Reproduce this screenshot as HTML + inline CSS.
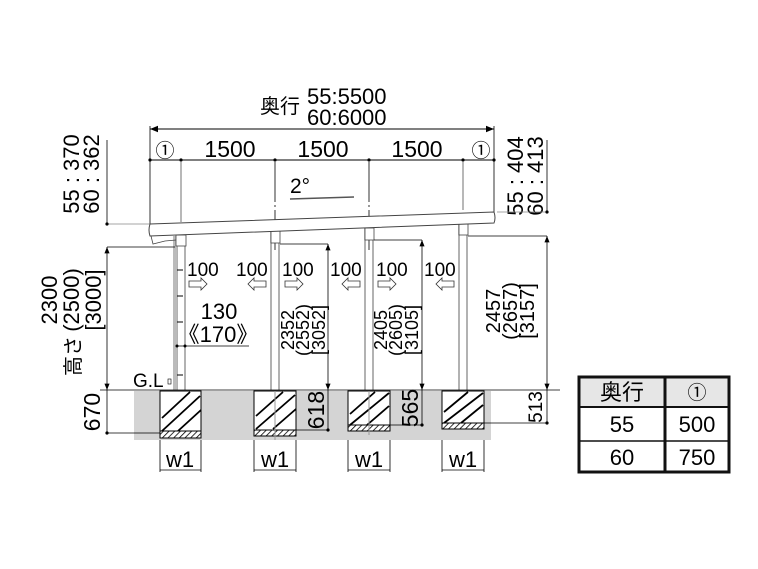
<!DOCTYPE html>
<html><head><meta charset="utf-8"><style>
html,body{margin:0;padding:0;background:#fff;}
svg{display:block;font-family:"Liberation Sans","Noto Sans CJK JP",sans-serif;}
</style></head><body>
<svg width="758" height="569" viewBox="0 0 758 569" xmlns="http://www.w3.org/2000/svg">
<defs>
<marker id="ar" viewBox="0 0 10 10" refX="10" refY="5" markerWidth="8" markerHeight="8" orient="auto-start-reverse"><path d="M0,1 L10,5 L0,9 z" fill="#000"/></marker>
<pattern id="hs" width="4" height="4" patternUnits="userSpaceOnUse" patternTransform="rotate(45)"><rect width="4" height="4" fill="#fff"/><line x1="0" y1="0" x2="0" y2="4" stroke="#000" stroke-width="1.6"/></pattern>
</defs>

<!-- title -->
<text x="260" y="113" font-size="20">奥行</text>
<text x="307" y="104" font-size="22">55:5500</text>
<text x="307" y="125" font-size="22">60:6000</text>

<!-- top overall dim -->
<line x1="150" y1="129" x2="494" y2="129" stroke="#000" marker-start="url(#ar)" marker-end="url(#ar)"/>
<line x1="150" y1="126" x2="150" y2="224" stroke="#000" stroke-width="0.8"/>
<line x1="494" y1="126" x2="494" y2="212" stroke="#000" stroke-width="0.8"/>

<!-- span dim -->
<line x1="150" y1="160" x2="494" y2="160" stroke="#000"/>
<g fill="#000"><circle cx="150" cy="160" r="1.6"/><circle cx="181" cy="160" r="1.6"/><circle cx="275" cy="160" r="1.6"/><circle cx="369" cy="160" r="1.6"/><circle cx="463" cy="160" r="1.6"/><circle cx="494" cy="160" r="1.6"/></g>
<g font-size="23" text-anchor="middle">
<text x="165" y="157" font-size="19">①</text>
<text x="481" y="157" font-size="19">①</text>
<text x="230" y="157">1500</text>
<text x="323" y="157">1500</text>
<text x="417" y="157">1500</text>
</g>
<line x1="181" y1="162" x2="181" y2="222" stroke="#888" stroke-width="1.2"/>
<line x1="463" y1="162" x2="463" y2="210" stroke="#888" stroke-width="1.2"/>
<line x1="275" y1="162" x2="275" y2="250" stroke="#000" stroke-width="0.8" stroke-dasharray="40,3,2,3"/>
<line x1="369" y1="162" x2="369" y2="250" stroke="#000" stroke-width="0.8" stroke-dasharray="40,3,2,3"/>

<!-- 2 deg -->
<text x="290" y="193" font-size="21">2°</text>
<path d="M290 199 L354 197" stroke="#555" stroke-width="1.5"/>

<!-- left height dim -->
<line x1="107" y1="140" x2="107" y2="224" stroke="#000" stroke-width="0.8"/>
<line x1="107" y1="224" x2="150" y2="224" stroke="#888" stroke-width="0.8"/>
<circle cx="107" cy="224" r="1.6"/>
<g font-size="22" text-anchor="middle">
<text transform="translate(79,174) rotate(-90)">55 : 370</text>
<text transform="translate(99,174) rotate(-90)">60 : 362</text>
<text transform="translate(523,176) rotate(-90)">55 : 404</text>
<text transform="translate(543,176) rotate(-90)">60 : 413</text>
</g>
<line x1="547" y1="140" x2="547" y2="212" stroke="#000" stroke-width="0.8"/>
<line x1="497" y1="212" x2="547" y2="212" stroke="#888" stroke-width="0.8"/>
<circle cx="547" cy="212" r="1.6"/>

<!-- posts -->
<g stroke="#999" stroke-width="1.5" fill="none">
<line x1="177" y1="236" x2="177" y2="390"/>
<line x1="185" y1="236" x2="185" y2="390"/>
<line x1="271" y1="232" x2="271" y2="390"/><line x1="279" y1="232" x2="279" y2="390"/>
<line x1="365" y1="228" x2="365" y2="390"/><line x1="373" y1="228" x2="373" y2="390"/>
<line x1="459" y1="224" x2="459" y2="390"/><line x1="467" y1="224" x2="467" y2="390"/>
</g>
<rect x="173" y="236" width="4" height="154" fill="#bbb"/>
<g fill="#fff" stroke="#444" stroke-width="0.8">
<rect x="176" y="235" width="10" height="11"/>
<rect x="271" y="231" width="9" height="12"/>
<rect x="365" y="228" width="9" height="12"/>
<rect x="459" y="224" width="9" height="11"/>
</g>
<g stroke="#000" stroke-width="1">
<line x1="177" y1="270" x2="183" y2="270"/><line x1="177" y1="296" x2="183" y2="296"/><line x1="177" y1="322" x2="183" y2="322"/><line x1="177" y1="375" x2="183" y2="375"/>
</g>

<!-- roof -->
<path d="M150 224 L494 212 Q496 218 494 223 L150 236 Q148 230 150 224 Z" fill="#fff" stroke="#444" stroke-width="1"/>
<path d="M151 236 L153 244 L165 241 L176 240" fill="none" stroke="#444" stroke-width="0.8"/>

<!-- height dims -->
<g stroke="#000" stroke-width="0.8">
<line x1="107" y1="247" x2="175" y2="247"/>
<line x1="107" y1="247" x2="107" y2="390" marker-start="url(#ar)" marker-end="url(#ar)"/>
<line x1="280" y1="244" x2="328" y2="244"/>
<line x1="328" y1="244" x2="328" y2="390" marker-start="url(#ar)" marker-end="url(#ar)"/>
<line x1="374" y1="240" x2="422" y2="240"/>
<line x1="422" y1="240" x2="422" y2="390" marker-start="url(#ar)" marker-end="url(#ar)"/>
<line x1="468" y1="236" x2="547" y2="236"/>
<line x1="547" y1="236" x2="547" y2="390" marker-start="url(#ar)" marker-end="url(#ar)"/>
<line x1="100" y1="390" x2="560" y2="390"/>
</g>
<g font-size="22" text-anchor="middle">
<text transform="translate(57,300) rotate(-90)">2300</text>
<text transform="translate(79,300) rotate(-90)">(2500)</text>
<text transform="translate(101,300) rotate(-90)">[3000]</text>
<text transform="translate(80,356) rotate(-90)" font-size="20">高さ</text>
</g>
<g font-size="18" text-anchor="middle">
<text transform="translate(294,330) rotate(-90)">2352</text>
<text transform="translate(309,330) rotate(-90)">(2552)</text>
<text transform="translate(325,330) rotate(-90)">[3052]</text>
<text transform="translate(387,330) rotate(-90)">2405</text>
<text transform="translate(402,330) rotate(-90)">(2605)</text>
<text transform="translate(418,330) rotate(-90)">[3105]</text>
</g>
<g font-size="20" text-anchor="middle">
<text transform="translate(500,311) rotate(-90)">2457</text>
<text transform="translate(517,311) rotate(-90)">(2657)</text>
<text transform="translate(534,311) rotate(-90)">[3157]</text>
</g>

<!-- 100 labels & arrows -->
<g font-size="19">
<text x="187" y="276">100</text>
<text x="236" y="276">100</text>
<text x="282" y="276">100</text>
<text x="330" y="276">100</text>
<text x="376" y="276">100</text>
<text x="424" y="276">100</text>
</g>
<g fill="#fff" stroke="#333" stroke-width="0.8">
<path d="M189 281 h12 v-3 l6 6 l-6 6 v-3 h-12 z"/>
<path d="M285 281 h12 v-3 l6 6 l-6 6 v-3 h-12 z"/>
<path d="M378 281 h12 v-3 l6 6 l-6 6 v-3 h-12 z"/>
<path d="M266 281 h-12 v-3 l-6 6 l6 6 v-3 h12 z"/>
<path d="M360 281 h-12 v-3 l-6 6 l6 6 v-3 h12 z"/>
<path d="M454 281 h-12 v-3 l-6 6 l6 6 v-3 h12 z"/>
</g>

<!-- 130 -->
<text x="219" y="319" font-size="22" text-anchor="middle">130</text>
<text x="218" y="342" font-size="22" text-anchor="middle">《170》</text>
<line x1="176" y1="346" x2="249" y2="346" stroke="#000" stroke-width="0.8"/>
<circle cx="177" cy="346" r="1.5"/><circle cx="185" cy="346" r="1.5"/>

<text x="133" y="387" font-size="19">G.L</text>
<rect x="168" y="379" width="3" height="5" fill="#fff" stroke="#000" stroke-width="0.6"/>

<!-- ground -->
<rect x="134" y="391" width="357" height="49" fill="#d4d4d4"/>
<g stroke="#000" stroke-width="1">
<g>
<rect x="160" y="391" width="41" height="47" fill="#fff"/>
<rect x="160" y="431" width="41" height="7" fill="url(#hs)" stroke="#000"/>
<path d="M162 418 L190 392 M162 431 L200 396 M178 431 L201 410" stroke-width="1.8"/>
</g>
<g>
<rect x="254" y="391" width="42" height="45" fill="#fff"/>
<rect x="254" y="430" width="42" height="6" fill="url(#hs)" stroke="#000"/>
<path d="M256 416 L283 392 M256 429 L295 395 M273 429 L296 409" stroke-width="1.8"/>
</g>
<g>
<rect x="348" y="391" width="42" height="40" fill="#fff"/>
<rect x="348" y="425" width="42" height="6" fill="url(#hs)" stroke="#000"/>
<path d="M350 414 L375 392 M350 425 L389 393 M367 425 L389 406" stroke-width="1.8"/>
</g>
<g>
<rect x="442" y="391" width="42" height="38" fill="#fff"/>
<rect x="442" y="423" width="42" height="6" fill="url(#hs)" stroke="#000"/>
<path d="M444 412 L468 392 M444 423 L483 393 M461 423 L483 405" stroke-width="1.8"/>
</g>
</g>
<g stroke="#999" stroke-width="1">
<line x1="275" y1="391" x2="275" y2="440"/><line x1="369" y1="391" x2="369" y2="435"/>
</g>

<!-- depth dims -->
<g stroke="#000" stroke-width="0.8">
<line x1="107" y1="390" x2="107" y2="433"/><line x1="107" y1="433" x2="160" y2="433"/>
<line x1="328" y1="390" x2="328" y2="430"/><line x1="296" y1="430" x2="328" y2="430"/>
<line x1="422" y1="390" x2="422" y2="425"/><line x1="390" y1="425" x2="422" y2="425"/>
<line x1="547" y1="390" x2="547" y2="423"/><line x1="484" y1="423" x2="547" y2="423"/>
</g>
<g fill="#000"><circle cx="107" cy="433" r="1.6"/><circle cx="328" cy="430" r="1.6"/><circle cx="422" cy="425" r="1.6"/><circle cx="547" cy="423" r="1.6"/></g>
<g font-size="23" text-anchor="middle">
<text transform="translate(100,412) rotate(-90)">670</text>
<text transform="translate(324,410) rotate(-90)">618</text>
<text transform="translate(418,408) rotate(-90)">565</text>
<text transform="translate(542,407) rotate(-90)" font-size="19">513</text>
</g>

<!-- w1 -->
<g stroke="#000" stroke-width="0.8">
<line x1="160" y1="440" x2="160" y2="472"/><line x1="201" y1="440" x2="201" y2="472"/><line x1="160" y1="470" x2="201" y2="470"/>
<line x1="254" y1="440" x2="254" y2="472"/><line x1="296" y1="440" x2="296" y2="472"/><line x1="254" y1="470" x2="296" y2="470"/>
<line x1="348" y1="440" x2="348" y2="472"/><line x1="390" y1="440" x2="390" y2="472"/><line x1="348" y1="470" x2="390" y2="470"/>
<line x1="442" y1="440" x2="442" y2="472"/><line x1="484" y1="440" x2="484" y2="472"/><line x1="442" y1="470" x2="484" y2="470"/>
</g>
<g font-size="22" text-anchor="middle">
<text x="180" y="467">w1</text><text x="275" y="467">w1</text><text x="369" y="467">w1</text><text x="463" y="467">w1</text>
</g>

<!-- table -->
<rect x="579" y="377" width="150" height="30" fill="#e6e6e6"/>
<g stroke="#111" fill="none">
<rect x="579" y="377" width="150" height="95" stroke-width="3"/>
<line x1="665" y1="377" x2="665" y2="472" stroke-width="3"/>
<line x1="579" y1="407" x2="729" y2="407" stroke-width="2"/>
<line x1="579" y1="441" x2="729" y2="441" stroke-width="1.5"/>
</g>
<g font-size="22" text-anchor="middle">
<text x="622" y="400">奥行</text>
<text x="697" y="399" font-size="19">①</text>
<text x="622" y="432">55</text><text x="697" y="432">500</text>
<text x="622" y="465">60</text><text x="697" y="465">750</text>
</g>
</svg>
</body></html>
